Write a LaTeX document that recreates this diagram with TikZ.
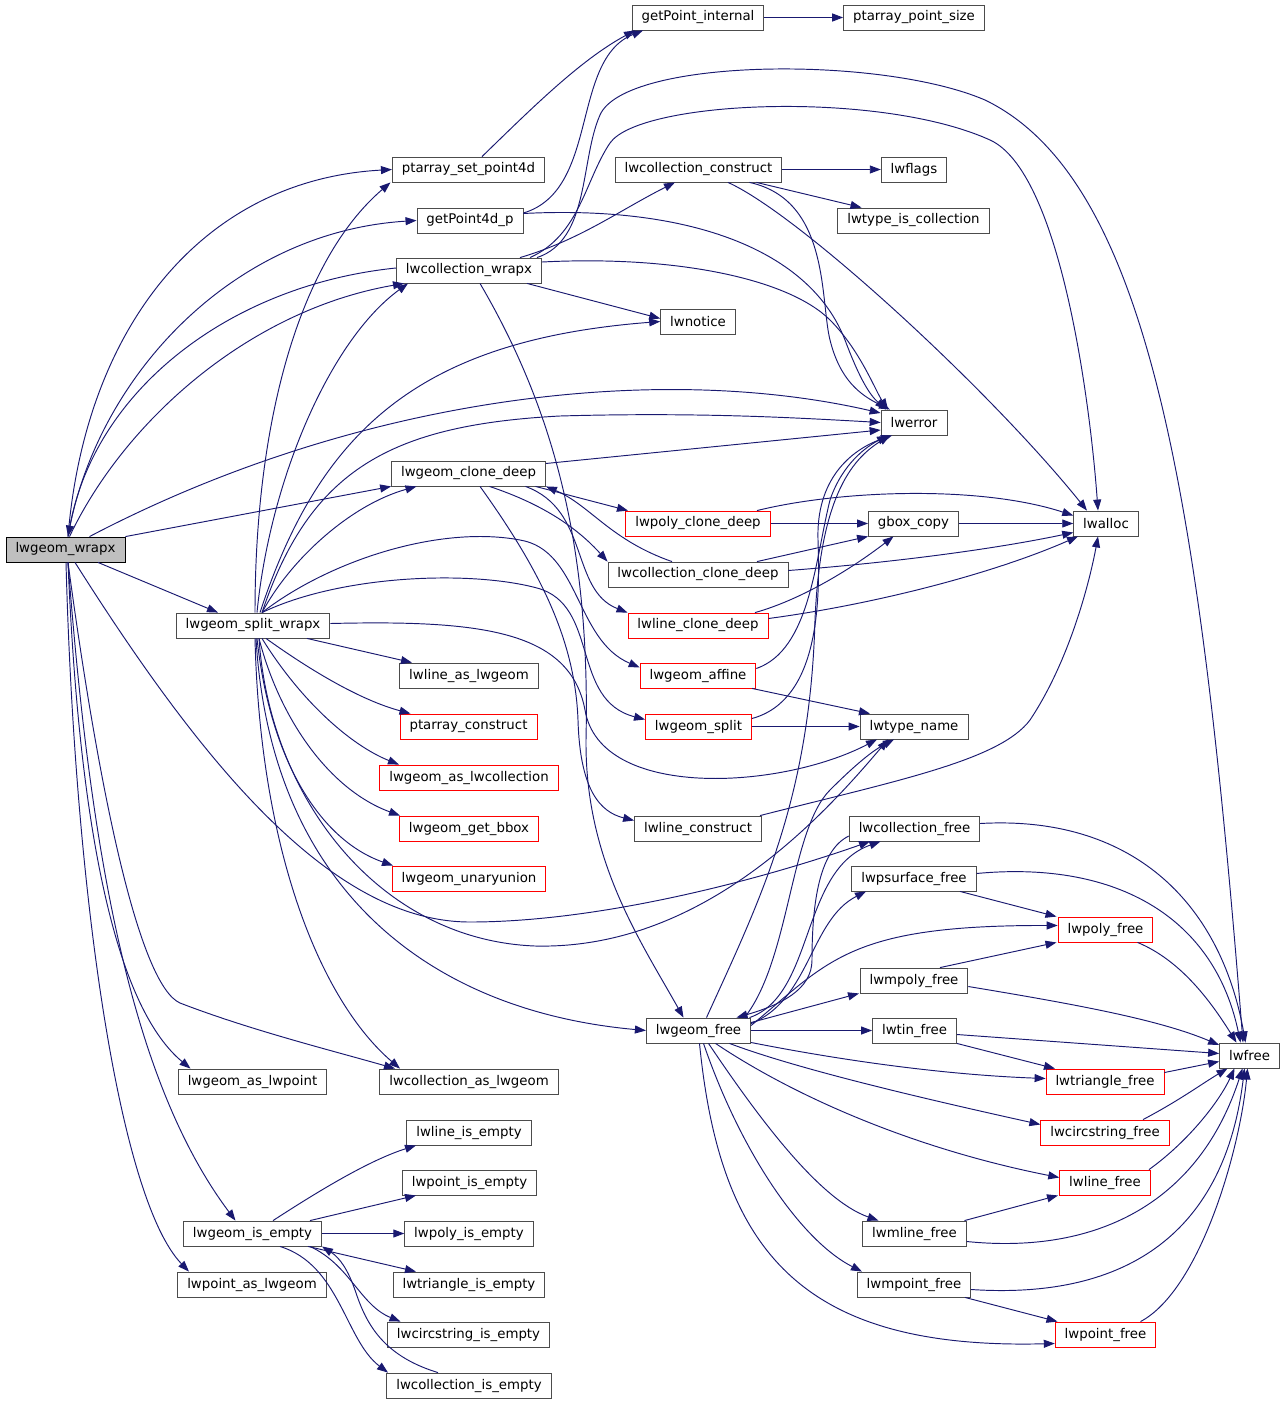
\documentclass[tikz,border=0pt]{standalone}
\usepackage{fontspec}
\setmainfont{DejaVu Sans}
\usetikzlibrary{arrows.meta}
\definecolor{edgeblue}{HTML}{191970}
\tikzset{
  fn/.style={draw=black!70,fill=white,line width=0.85pt,inner xsep=9.5pt,minimum height=25pt,
    font=\fontsize{13.33}{16}\selectfont},
  fnred/.style={fn,draw=red},
  fnroot/.style={fn,draw=black,fill=black!25},
  call/.style={draw=edgeblue,line width=0.95pt,-{Triangle[length=11pt,width=8pt]}}
}
\begin{document}
\begin{tikzpicture}[x=1pt,y=-1pt]
\useasboundingbox (0,0) rectangle (1287,1405);

\node[fnroot] (wrapx) at (65.5,549.5) {lwgeom\_wrapx};
\node[fn] (gpi) at (698,17.5) {getPoint\_internal};
\node[fn] (pps) at (914,17.5) {ptarray\_point\_size};
\node[fn] (pasp) at (468.5,169.5) {ptarray\_set\_point4d};
\node[fn] (lcc) at (698.5,169.5) {lwcollection\_construct};
\node[fn] (lwflags) at (914,169.5) {lwflags};
\node[fn] (gp4) at (470,220.5) {getPoint4d\_p};
\node[fn] (ltic) at (913.5,220.5) {lwtype\_is\_collection};
\node[fn] (lcw) at (469,270.5) {lwcollection\_wrapx};
\node[fn] (lwnotice) at (698,321.5) {lwnotice};
\node[fn] (lwerror) at (914,422.5) {lwerror};
\node[fn] (lgcd) at (468.5,473.5) {lwgeom\_clone\_deep};
\node[fnred] (lpcd) at (698,523.5) {lwpoly\_clone\_deep};
\node[fn] (gbox) at (913.5,523.5) {gbox\_copy};
\node[fn] (lwalloc) at (1106,523.5) {lwalloc};
\node[fn] (lccd) at (698,574.5) {lwcollection\_clone\_deep};
\node[fn] (lgsw) at (253,625.5) {lwgeom\_split\_wrapx};
\node[fnred] (llcd) at (698,625.5) {lwline\_clone\_deep};
\node[fn] (llal) at (469,675.5) {lwline\_as\_lwgeom};
\node[fnred] (lga) at (698,675.5) {lwgeom\_affine};
\node[fnred] (pac) at (468.5,726.5) {ptarray\_construct};
\node[fnred] (lgs) at (698.5,726.5) {lwgeom\_split};
\node[fn] (ltn) at (914,726.5) {lwtype\_name};
\node[fnred] (lgalc) at (469,777.5) {lwgeom\_as\_lwcollection};
\node[fnred] (lggb) at (469,828.5) {lwgeom\_get\_bbox};
\node[fn] (llc) at (698,828.5) {lwline\_construct};
\node[fn] (lcf) at (914.5,828.5) {lwcollection\_free};
\node[fnred] (lguu) at (469,878.5) {lwgeom\_unaryunion};
\node[fn] (lpsf) at (914,878.5) {lwpsurface\_free};
\node[fnred] (lpf) at (1105.5,929.5) {lwpoly\_free};
\node[fn] (lmpf) at (914,980.5) {lwmpoly\_free};
\node[fn] (lgf) at (698.5,1030.5) {lwgeom\_free};
\node[fn] (ltf) at (914.5,1030.5) {lwtin\_free};
\node[fn] (lwfree) at (1249.5,1055.5) {lwfree};
\node[fn] (lgalp) at (252.5,1081.5) {lwgeom\_as\_lwpoint};
\node[fn] (lcalg) at (469,1081.5) {lwcollection\_as\_lwgeom};
\node[fnred] (ltrf) at (1105,1081.5) {lwtriangle\_free};
\node[fnred] (lcsf) at (1105,1132.5) {lwcircstring\_free};
\node[fn] (llie) at (469,1132.5) {lwline\_is\_empty};
\node[fnred] (llf) at (1105,1182.5) {lwline\_free};
\node[fn] (lpie) at (469.5,1182.5) {lwpoint\_is\_empty};
\node[fn] (lgie) at (252.5,1233.5) {lwgeom\_is\_empty};
\node[fn] (lpoie) at (469,1233.5) {lwpoly\_is\_empty};
\node[fn] (lmlf) at (914.5,1233.5) {lwmline\_free};
\node[fn] (ltie) at (469,1284.5) {lwtriangle\_is\_empty};
\node[fn] (lpalg) at (252,1284.5) {lwpoint\_as\_lwgeom};
\node[fn] (lmptf) at (914,1284.5) {lwmpoint\_free};
\node[fn] (lcsie) at (468.5,1334.5) {lwcircstring\_is\_empty};
\node[fnred] (lptf) at (1105.5,1334.5) {lwpoint\_free};
\node[fn] (lcie) at (469,1385.5) {lwcollection\_is\_empty};

\draw[call] ([xshift=2.5pt]wrapx.north) .. controls (85,330) and (200,180) .. (pasp.west);
\draw[call] ([xshift=2.5pt]wrapx.north) .. controls (95,380) and (230,232) .. (gp4.west);
\draw[call] ([yshift=2.5pt]lcw.west) .. controls (230,285) and (95,390) .. ([xshift=2.5pt]wrapx.north);
\draw[call] ([xshift=4pt]wrapx.north) .. controls (125,420) and (250,310) .. ([xshift=8pt]lcw.south west);
\draw[call] ([xshift=24pt]wrapx.north) .. controls (350,400) and (650,360) .. ([yshift=9.5pt]lwerror.west);
\draw[call] (wrapx.north east) -- (lgcd.south west);
\draw[call] ([xshift=32.5pt]wrapx.south) -- ([xshift=-35pt]lgsw.north);
\draw[call] ([xshift=9.5pt]wrapx.south) .. controls (200,760) and (330,922) .. (470,922) .. controls (600,922) and (760,880) .. ([xshift=-44.5pt]lcf.south);
\draw[call] ([xshift=2.5pt]wrapx.south) .. controls (80,850) and (120,1010) .. ([xshift=-62pt]lgalp.north);
\draw[call] ([xshift=2.5pt]wrapx.south) .. controls (100,800) and (140,985) .. (180,1003) .. controls (250,1030) and (330,1050) .. ([xshift=-74pt]lcalg.north);
\draw[call] ([xshift=2.5pt]wrapx.south) .. controls (90,850) and (130,1080) .. ([xshift=-17pt]lgie.north);
\draw[call] ([xshift=0.5pt]wrapx.south) .. controls (75,900) and (120,1200) .. ([xshift=-63pt]lpalg.north);

\draw[call] ([xshift=2pt]lgsw.north) .. controls (255,420) and (300,260) .. ([xshift=-78pt]pasp.south);
\draw[call] ([xshift=4pt]lgsw.north) .. controls (270,480) and (330,340) .. ([xshift=-61pt]lcw.south);
\draw[call] ([xshift=7pt]lgsw.north) .. controls (320,430) and (420,340) .. (lwnotice.west);
\draw[call] ([xshift=9pt]lgsw.north) .. controls (310,470) and (390,425) .. (560,416) .. controls (700,412) and (800,418) .. (lwerror.west);
\draw[call] ([xshift=9pt]lgsw.north) .. controls (290,560) and (350,505) .. ([xshift=-52pt]lgcd.south);
\draw[call] ([xshift=9pt]lgsw.north) .. controls (330,560) and (440,525) .. (520,540) .. controls (580,550) and (575,640) .. ([yshift=8pt]lga.west);
\draw[call] ([xshift=9pt]lgsw.north) .. controls (340,575) and (470,570) .. (537,588) .. controls (600,605) and (570,700) .. ([yshift=7pt]lgs.west);
\draw[call] ([yshift=2pt]lgsw.east) .. controls (480,620) and (570,630) .. (585,710) .. controls (600,800) and (780,790) .. ([xshift=-37pt]ltn.south);
\draw[call] ([xshift=6pt]lgsw.south) .. controls (270,800) and (380,940) .. (535,946) .. controls (700,950) and (820,820) .. ([xshift=-26pt]ltn.south);
\draw[call] ([xshift=54pt]lgsw.south) -- ([xshift=-57pt]llal.north);
\draw[call] ([xshift=13pt]lgsw.south) .. controls (310,670) and (360,700) .. ([xshift=-58pt]pac.north);
\draw[call] ([xshift=9pt]lgsw.south) .. controls (300,700) and (350,745) .. ([xshift=-70pt]lgalc.north);
\draw[call] ([xshift=6pt]lgsw.south) .. controls (280,720) and (330,790) .. ([xshift=-69pt]lggb.north);
\draw[call] ([xshift=4pt]lgsw.south) .. controls (270,760) and (320,840) .. ([xshift=-76pt]lguu.north);
\draw[call] ([xshift=3pt]lgsw.south) .. controls (270,880) and (420,1010) .. (lgf.west);
\draw[call] ([xshift=2pt]lgsw.south) .. controls (260,850) and (320,1000) .. ([xshift=-69pt]lcalg.north);

\draw[call] ([xshift=13.5pt]pasp.north) .. controls (530,110) and (580,60) .. ([xshift=-63pt]gpi.south);
\draw[call] ([yshift=7.5pt]gp4.east) .. controls (600,190) and (570,60) .. ([xshift=-55pt]gpi.south);
\draw[call] (gpi.east) -- (pps.west);
\draw[call] ([yshift=7pt]gp4.east) .. controls (690,205) and (810,250) .. (845,340) .. controls (860,380) and (870,395) .. ([xshift=-28pt]lwerror.north);
\draw[call] ([xshift=51pt]lcw.north) .. controls (580,240) and (620,210) .. ([xshift=-23.5pt]lcc.south);
\draw[call] ([xshift=68pt]lcw.north) .. controls (590,240) and (580,160) .. (600,115) .. controls (625,58) and (880,55) .. (985,100) .. controls (1150,180) and (1200,500) .. ([xshift=-6.5pt]lwfree.north);
\draw[call] ([xshift=61pt]lcw.north) .. controls (580,235) and (585,180) .. (610,143) .. controls (640,100) and (880,90) .. (990,140) .. controls (1060,172) and (1090,400) .. ([xshift=-8pt]lwalloc.north);
\draw[call] ([yshift=8.5pt]lcw.east) .. controls (680,255) and (790,280) .. (830,320) .. controls (860,350) and (875,390) .. ([xshift=-26pt]lwerror.north);
\draw[call] ([xshift=58pt]lcw.south) -- ([yshift=3pt]lwnotice.west);
\draw[call] ([xshift=11pt]lcw.south) .. controls (560,420) and (590,560) .. (586,740) .. controls (585,860) and (640,940) .. ([xshift=-15pt]lgf.north);
\draw[call] ([xshift=11.5pt]lgcd.south) .. controls (540,570) and (575,640) .. (578,720) .. controls (580,790) and (600,812) .. ([yshift=8pt]llc.west);
\draw[call] ([yshift=10pt]lgcd.east) -- ([yshift=-7.5pt]lwerror.west);
\draw[call] ([xshift=67pt]lgcd.south) -- ([xshift=-70pt]lpcd.north);
\draw[call] ([xshift=21pt]lgcd.south) .. controls (530,500) and (570,520) .. (lccd.north west);
\draw[call] ([xshift=57pt]lgcd.south) .. controls (590,510) and (570,590) .. (llcd.north west);
\draw[call] ([xshift=-26pt]lccd.north) .. controls (610,540) and (590,505) .. (lgcd.south east);
\draw[call] (lpcd.east) -- (gbox.west);
\draw[call] ([xshift=59pt]lpcd.north) .. controls (840,490) and (980,485) .. ([yshift=8pt]lwalloc.west);
\draw[call] (gbox.east) -- (lwalloc.west);
\draw[call] ([xshift=59pt]lccd.north) -- (gbox.south west);
\draw[call] ([yshift=4pt]lccd.east) .. controls (900,562) and (1000,548) .. ([yshift=-9pt]lwalloc.west);
\draw[call] ([xshift=57pt]llcd.north) .. controls (800,600) and (850,570) .. ([xshift=-20pt]gbox.south);
\draw[call] ([yshift=7pt]llcd.east) .. controls (870,605) and (990,575) .. ([xshift=-28pt]lwalloc.south);
\draw[call] ([yshift=7pt]lga.east) .. controls (810,650) and (815,560) .. (830,500) .. controls (840,470) and (860,450) .. ([xshift=-26pt]lwerror.south);
\draw[call] ([xshift=54pt]lga.south) -- ([xshift=-44pt]ltn.north);
\draw[call] (lgs.east) -- (ltn.west);
\draw[call] ([yshift=8pt]lgs.east) .. controls (820,700) and (820,600) .. (818,540) .. controls (816,480) and (850,450) .. ([xshift=-22pt]lwerror.south);
\draw[call] ([xshift=62pt]llc.north) .. controls (900,780) and (1000,760) .. (1030,720) .. controls (1070,660) and (1090,580) .. ([xshift=-8pt]lwalloc.south);
\draw[call] (lcc.east) -- (lwflags.west);
\draw[call] ([xshift=58pt]lcc.south) -- ([xshift=-52pt]ltic.north);
\draw[call] ([xshift=51pt]lcc.south) .. controls (830,200) and (820,300) .. (830,340) .. controls (840,380) and (860,395) .. ([xshift=-24pt]lwerror.north);
\draw[call] ([xshift=29.5pt]lcc.south) .. controls (800,215) and (990,390) .. ([xshift=-19pt]lwalloc.north);

\draw[call] ([xshift=8pt]lgf.north) .. controls (760,900) and (810,800) .. (815,620) .. controls (820,500) and (850,460) .. ([xshift=-24pt]lwerror.south);
\draw[call] ([xshift=46pt]lgf.north) .. controls (790,960) and (790,830) .. (830,790) .. controls (850,770) and (870,752) .. ([xshift=-20pt]ltn.south);
\draw[call] ([yshift=-7.5pt]lcf.west) .. controls (820,850) and (812,900) .. (812,960) .. controls (812,990) and (780,1005) .. ([xshift=38pt]lgf.north);
\draw[call] ([xshift=51pt]lgf.north) .. controls (815,995) and (800,870) .. ([xshift=-34pt]lcf.south);
\draw[call] ([yshift=7pt]lgf.east) .. controls (810,1000) and (810,920) .. ([xshift=-48pt]lpsf.south);
\draw[call] ([yshift=5pt]lgf.east) .. controls (830,960) and (850,925) .. ([yshift=4pt]lpf.west);
\draw[call] ([yshift=8pt]lgf.east) -- ([xshift=-55pt]lmpf.south);
\draw[call] (lgf.east) -- (ltf.west);
\draw[call] ([yshift=-12pt]lgf.east) .. controls (850,1062) and (950,1075) .. ([yshift=3pt]ltrf.west);
\draw[call] ([xshift=31pt]lgf.south) .. controls (800,1070) and (930,1100) .. ([yshift=8pt]lcsf.west);
\draw[call] ([xshift=17pt]lgf.south) .. controls (800,1100) and (920,1150) .. ([yshift=5pt]llf.west);
\draw[call] ([xshift=10pt]lgf.south) .. controls (760,1120) and (820,1200) .. ([xshift=-36pt]lmlf.north);
\draw[call] ([xshift=5pt]lgf.south) .. controls (740,1150) and (800,1240) .. ([xshift=-52pt]lmptf.north);
\draw[call] ([xshift=1pt]lgf.south) .. controls (720,1250) and (800,1350) .. ([yshift=-9pt]lptf.west);

\draw[call] ([yshift=5pt]lcf.east) .. controls (1130,815) and (1220,900) .. ([xshift=-4pt]lwfree.north);
\draw[call] ([yshift=5pt]lpsf.east) .. controls (1120,860) and (1215,920) .. ([xshift=-9pt]lwfree.north);
\draw[call] ([xshift=46pt]lpsf.south) -- ([xshift=-49pt]lpf.north);
\draw[call] ([xshift=32pt]lpf.south) .. controls (1180,960) and (1210,1000) .. ([xshift=-13pt]lwfree.north);
\draw[call] ([xshift=26pt]lmpf.north) -- ([xshift=-49pt]lpf.south);
\draw[call] ([yshift=-6pt]lmpf.east) .. controls (1080,1005) and (1160,1020) .. ([yshift=10.5pt]lwfree.west);
\draw[call] ([yshift=-4pt]ltf.east) -- ([yshift=2pt]lwfree.west);
\draw[call] (ltf.south east) -- ([xshift=-50pt]ltrf.north);
\draw[call] ([yshift=9pt]ltrf.east) -- ([yshift=-6pt]lwfree.west);
\draw[call] ([xshift=38pt]lcsf.north) .. controls (1180,1100) and (1200,1085) .. ([xshift=-22pt]lwfree.south);
\draw[call] ([xshift=44pt]llf.north) .. controls (1190,1140) and (1220,1100) .. ([xshift=-15pt]lwfree.south);
\draw[call] ([xshift=50pt]lmlf.north) -- ([xshift=-47pt]llf.south);
\draw[call] ([yshift=-8pt]lmlf.east) .. controls (1100,1255) and (1200,1200) .. ([xshift=-7pt]lwfree.south);
\draw[call] ([yshift=-5pt]lmptf.east) .. controls (1130,1300) and (1225,1230) .. ([xshift=-5pt]lwfree.south);
\draw[call] ([xshift=51pt]lmptf.south) -- ([xshift=-48pt]lptf.north);
\draw[call] ([xshift=35pt]lptf.north) .. controls (1200,1290) and (1240,1150) .. ([xshift=-2pt]lwfree.south);

\draw[call] ([xshift=20.5pt]lgie.north) .. controls (320,1190) and (370,1160) .. ([xshift=-53pt]llie.south);
\draw[call] ([xshift=57.5pt]lgie.north) -- ([xshift=-53.5pt]lpie.south);
\draw[call] (lgie.east) -- (lpoie.west);
\draw[call] ([xshift=55.5pt]lgie.south) -- ([xshift=-53pt]ltie.north);
\draw[call] ([xshift=57.5pt]lgie.south) .. controls (350,1265) and (360,1305) .. ([xshift=-68pt]lcsie.north);
\draw[call] ([xshift=27.5pt]lgie.south) .. controls (340,1265) and (345,1340) .. ([xshift=-81pt]lcie.north);
\draw[call] ([xshift=-31pt]lcie.north) .. controls (380,1355) and (365,1320) .. (355,1290) .. controls (348,1270) and (340,1258) .. (lgie.south east);
\end{tikzpicture}
\end{document}
